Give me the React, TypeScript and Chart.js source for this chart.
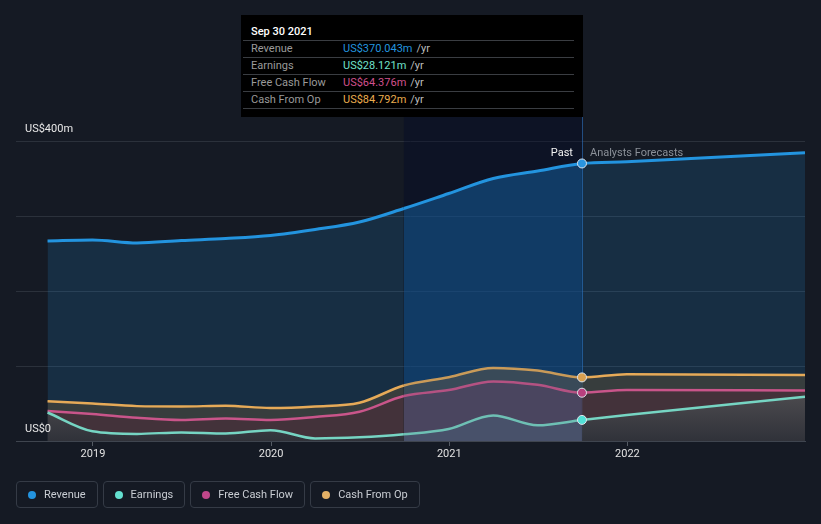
import React, { useEffect, useRef } from "react";
import { Chart, registerables } from "chart.js";

Chart.register(...registerables);

// ---- data (values in US$ millions, x in decimal years at quarter-end dates) ----
const periods = [2018.745, 2018.997, 2019.247, 2019.496, 2019.745, 2019.997, 2020.247, 2020.496, 2020.745, 2020.997, 2021.247, 2021.496, 2021.745, 2021.997, 2022.997];
const revenue = [266.7, 268, 264, 267.3, 270, 274, 282, 292, 310, 330, 350, 360, 370.043, 372.4, 384.5];
const earnings = [38, 13, 9.5, 11.5, 10, 14.5, 3.5, 5, 9, 16, 34, 21, 28.121, 34.7, 59];
const freeCashFlow = [40, 36, 31, 28, 30, 28, 32, 39, 60, 68, 79.5, 75, 64.376, 68, 67.5];
const cashFromOp = [53, 50, 46.5, 46, 47, 44, 46, 51, 74, 85, 97.5, 94, 84.792, 89, 88];

const xTickYears = [2019, 2020, 2021, 2022];
const yLabelValues = [400, 0];
const yLabelTexts = ["US$400m", "US$0"];
const highlightStart = 2020.745;
const pastEnd = 2021.745;
const xMin = 2018.568;
const xMax = 2022.997;

const seriesNames = ["Revenue", "Earnings", "Free Cash Flow", "Cash From Op"];
const tooltipTitle = "Sep 30 2021";
const tooltipValues = ["US$370.043m", "US$28.121m", "US$64.376m", "US$84.792m"];

const FONT = "Roboto, 'Noto Sans', sans-serif";
const BG = "#151a24";
const lineColors = ["#2394df", "#76d5c3", "#c9558a", "#e6aa58"];
const dotColors = ["#2394df", "#64e0d0", "#c0478a", "#e3b066"];
const pointColors = ["#2a95e0", "#52e0d6", "#b8407e", "#d9a050"];
const textColors = ["#2394df", "#70e0cc", "#d0508d", "#ebad4f"];

const toPts = (arr: number[]) => arr.map((v, i) => ({ x: periods[i], y: v }));
const inBand = (ctx: any) => ctx.p0.parsed.x >= highlightStart - 1e-6 && ctx.p1.parsed.x <= pastEnd + 1e-6;
const pastIndex = periods.indexOf(pastEnd);

const overlayPlugin = {
  id: "overlay",
  beforeDatasetsDraw(chart: any) {
    const { ctx, chartArea, scales } = chart;
    const x0 = scales.x.getPixelForValue(highlightStart);
    const x1 = scales.x.getPixelForValue(pastEnd);
    ctx.save();
    ctx.fillStyle = "rgba(0,10,40,0.35)";
    ctx.fillRect(x0, 117, x1 - x0, chartArea.bottom - 117);
    ctx.strokeStyle = "rgba(40,100,170,0.7)";
    ctx.lineWidth = 1;
    ctx.beginPath();
    ctx.moveTo(Math.round(x1) + 0.5, 117);
    ctx.lineTo(Math.round(x1) + 0.5, chartArea.bottom);
    ctx.stroke();
    ctx.restore();
  },
  afterDatasetsDraw(chart: any) {
    const { ctx, chartArea, scales } = chart;
    const xp = scales.x.getPixelForValue(pastEnd);
    ctx.save();
    ctx.font = `11px ${FONT}`;
    ctx.textBaseline = "middle";
    ctx.fillStyle = "#e8e8e8";
    ctx.textAlign = "left";
    yLabelValues.forEach((v, i) => {
      ctx.fillText(yLabelTexts[i], 25, scales.y.getPixelForValue(v) - 12);
    });
    const ly = chartArea.top + 12;
    ctx.textAlign = "right";
    ctx.fillStyle = "#f2f2f2";
    ctx.fillText("Past", xp - 9, ly);
    ctx.textAlign = "left";
    ctx.fillStyle = "#8b9098";
    ctx.fillText("Analysts Forecasts", xp + 8, ly);
    ctx.restore();
  },
};

function App() {
  const ref = useRef<HTMLCanvasElement | null>(null);

  useEffect(() => {
    if (!ref.current) return;
    const earnGrad = (c: any) => {
      const chart = c.chart;
      const { ctx, scales, chartArea } = chart;
      const fallback = "rgba(60,70,75,0.6)";
      if (!chartArea || !scales || !scales.y) return fallback;
      const a = scales.y.getPixelForValue(60);
      const b = scales.y.getPixelForValue(0);
      if (!isFinite(a) || !isFinite(b)) return fallback;
      const g = ctx.createLinearGradient(0, a, 0, b);
      g.addColorStop(0, "rgba(80,90,92,0.6)");
      g.addColorStop(1, "rgba(35,50,58,0.6)");
      return g;
    };
    const common = {
      fill: "origin",
      cubicInterpolationMode: "monotone",
      borderWidth: 2.5,
      pointRadius: (c: any) => (c.dataIndex === pastIndex ? 4.5 : 0),
      pointHoverRadius: 0,
      pointBorderColor: "#dfe5ec",
      pointBorderWidth: 1,
    };
    const chart = new Chart(ref.current, {
      type: "line",
      data: {
        datasets: [
          {
            ...common,
            label: seriesNames[0],
            data: toPts(revenue),
            borderColor: lineColors[0],
            borderWidth: 3,
            backgroundColor: "rgba(35,148,223,0.17)",
            pointBackgroundColor: pointColors[0],
            segment: { backgroundColor: (c: any) => (inBand(c) ? "rgba(25,140,235,0.33)" : undefined) },
            order: 4,
          },
          {
            ...common,
            label: seriesNames[1],
            data: toPts(earnings),
            borderColor: lineColors[1],
            backgroundColor: earnGrad,
            pointBackgroundColor: pointColors[1],
            segment: {
              backgroundColor: (c: any) => (inBand(c) ? "rgba(70,100,125,0.4)" : undefined),
              borderColor: (c: any) => (inBand(c) ? "rgba(118,213,195,0.85)" : undefined),
            },
            order: 1,
          },
          {
            ...common,
            label: seriesNames[2],
            data: toPts(freeCashFlow),
            borderColor: lineColors[2],
            backgroundColor: "rgba(80,40,55,0.5)",
            pointBackgroundColor: pointColors[2],
            segment: {
              backgroundColor: (c: any) => (inBand(c) ? "rgba(110,60,110,0.35)" : undefined),
              borderColor: (c: any) => (inBand(c) ? "rgba(201,85,138,0.85)" : undefined),
            },
            order: 2,
          },
          {
            ...common,
            label: seriesNames[3],
            data: toPts(cashFromOp),
            borderColor: lineColors[3],
            backgroundColor: "rgba(70,68,58,0.7)",
            pointBackgroundColor: pointColors[3],
            segment: {
              backgroundColor: (c: any) => (inBand(c) ? "rgba(120,100,70,0.4)" : undefined),
              borderColor: (c: any) => (inBand(c) ? "rgba(230,170,88,0.85)" : undefined),
            },
            order: 3,
          },
        ] as any,
      },
      options: {
        responsive: false,
        devicePixelRatio: 1,
        animation: false,
        layout: { padding: { left: 16, right: 16, top: 141, bottom: 61 } },
        plugins: { legend: { display: false }, tooltip: { enabled: false } },
        events: [],
        scales: {
          x: {
            type: "linear",
            min: xMin,
            max: xMax,
            afterFit: (s: any) => {
              s.height = 22;
            },
            afterBuildTicks: (s: any) => {
              s.ticks = xTickYears.map((v) => ({ value: v }));
            },
            ticks: {
              color: "#e2e2e2",
              font: { family: FONT, size: 11 },
              padding: 2,
              maxRotation: 0,
              autoSkip: false,
              callback: (v: any) => String(v),
            },
            grid: {
              display: true,
              drawOnChartArea: false,
              drawTicks: true,
              tickLength: 5,
              color: "#555b64",
            },
            border: { display: true, color: "#3f454f", width: 1 },
          },
          y: {
            min: 0,
            max: 400,
            afterFit: (s: any) => {
              s.width = 0;
            },
            ticks: { display: false, stepSize: 100 },
            grid: { color: "#2b313b", drawTicks: false, lineWidth: 1 },
            border: { display: false },
          },
        },
      } as any,
      plugins: [overlayPlugin],
    });
    return () => chart.destroy();
  }, []);

  return (
    <div
      style={{
        position: "fixed",
        left: 0,
        top: 0,
        width: 821,
        height: 524,
        background: BG,
        fontFamily: FONT,
        overflow: "hidden",
      }}
    >
      <canvas ref={ref} width={821} height={524} style={{ display: "block", width: 821, height: 524 }} />
      {/* tooltip */}
      <div
        style={{
          position: "absolute",
          left: 241,
          top: 15,
          width: 342,
          height: 102,
          boxSizing: "border-box",
          background: "#000",
          padding: "0 9px 0 2px",
          fontSize: 11,
        }}
      >
        <div
          style={{
            paddingTop: 10,
            paddingBottom: 2,
            paddingLeft: 8,
            lineHeight: "13px",
            borderBottom: "1px solid #3a3d42",
            color: "#fff",
            fontWeight: 500,
          }}
        >
          {tooltipTitle}
        </div>
        {seriesNames.map((n, i) => (
          <div
            key={n}
            style={{
              display: "flex",
              lineHeight: "16px",
              paddingLeft: 8,
              borderBottom: "1px solid #3a3d42",
            }}
          >
            <span style={{ width: 92, color: "#9a9a9a" }}>{n}</span>
            <span style={{ color: textColors[i] }}>{tooltipValues[i]}</span>
            <span style={{ color: "#bdbdbd", marginLeft: 4 }}>/yr</span>
          </div>
        ))}
      </div>
      {/* legend */}
      <div style={{ position: "absolute", left: 16, top: 481, display: "flex", gap: 5 }}>
        {seriesNames.map((n, i) => (
          <div
            key={n}
            style={{
              height: 27,
              boxSizing: "border-box",
              border: "1px solid #353b46",
              borderRadius: 4,
              padding: "0 11px 0 11px",
              display: "flex",
              alignItems: "center",
              color: "#c9cdd3",
              fontSize: 11,
            }}
          >
            <span
              style={{
                width: 8,
                height: 8,
                borderRadius: 4,
                background: dotColors[i],
                marginRight: 8,
                display: "inline-block",
              }}
            />
            {n}
          </div>
        ))}
      </div>
    </div>
  );
}

export default App;
